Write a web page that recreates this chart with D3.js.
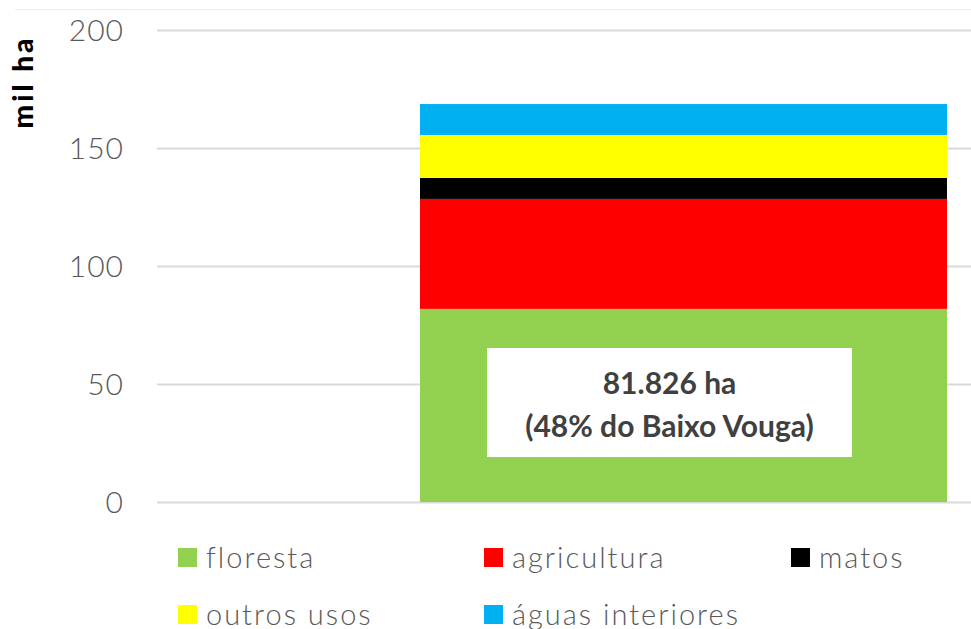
<!DOCTYPE html>
<html><head><meta charset="utf-8">
<script src="https://cdn.jsdelivr.net/npm/d3@7"></script>
<style>body{margin:0;background:#fff;}svg{display:block;}</style>
</head><body>
<svg id="c" width="971" height="629"></svg>
<script>
const categories = ["Baixo Vouga"];
const seriesNames = ["floresta", "agricultura", "matos", "outros usos", "águas interiores"];
const seriesValues = [81.826, 46.6, 8.9, 18.2, 13.1];
const seriesColors = ["#92d050", "#ff0000", "#000000", "#ffff00", "#00b0f0"];
const yTicks = [0, 50, 100, 150, 200];
const yLabel = "mil ha";
const annotationLines = ["81.826 ha", "(48% do Baixo Vouga)"];

const svg = d3.select("#c");
const font = "Lato, 'Open Sans', sans-serif";
const y = d3.scaleLinear().domain([0, 200]).range([502, 30]);
const x = d3.scaleBand().domain(categories).range([420, 947]).padding(0);

// top border
svg.append("line").attr("x1", 15).attr("x2", 971).attr("y1", 9.5).attr("y2", 9.5)
  .attr("stroke", "#ececec").attr("stroke-width", 1);

// gridlines
const yAxis = d3.axisLeft(y).tickValues(yTicks).tickSize(-(971 - 157)).tickPadding(33);
const ga = svg.append("g").attr("transform", "translate(157,0)").call(yAxis);
ga.select(".domain").remove();
ga.selectAll(".tick line").attr("stroke", "#d9d9d9").attr("stroke-width", 2);
ga.selectAll(".tick text").attr("fill", "#595959").attr("font-family", font)
  .attr("font-size", 30).attr("font-weight", 300).attr("letter-spacing", 1).attr("dy", "0.36em");

// stacked bar
const stackData = [Object.fromEntries(seriesNames.map((n, i) => [n, seriesValues[i]]))];
stackData[0].cat = categories[0];
const stacked = d3.stack().keys(seriesNames)(stackData);
svg.append("g").selectAll("rect").data(stacked).join("rect")
  .attr("x", d => x(d[0].data.cat))
  .attr("width", x.bandwidth())
  .attr("y", d => y(d[0][1]))
  .attr("height", d => y(d[0][0]) - y(d[0][1]))
  .attr("fill", (d, i) => seriesColors[i]);

// annotation box
svg.append("rect").attr("x", 487).attr("y", 348).attr("width", 365).attr("height", 109).attr("fill", "#fff");
const at = svg.append("text").attr("font-family", font).attr("font-weight", 700)
  .attr("font-size", 30).attr("fill", "#404040").attr("text-anchor", "middle");
at.append("tspan").attr("x", 669.5).attr("y", 394).text(annotationLines[0]);
at.append("tspan").attr("x", 669.5).attr("y", 437).text(annotationLines[1]);

// y label
svg.append("text").attr("transform", "translate(33,82) rotate(-90)")
  .attr("text-anchor", "middle").attr("font-family", font).attr("font-weight", 900)
  .attr("font-size", 28).attr("letter-spacing", 3).attr("fill", "#000").text(yLabel);

// legend
const legPos = [[178, 558], [484, 558], [791, 558], [178, 615], [484, 615]];
const lg = svg.append("g").selectAll("g").data(seriesNames).join("g")
  .attr("transform", (d, i) => `translate(${legPos[i][0]},${legPos[i][1]})`);
lg.append("rect").attr("x", 0).attr("y", -10).attr("width", 19).attr("height", 19)
  .attr("fill", (d, i) => seriesColors[i]);
lg.append("text").attr("x", 28).attr("y", 0).attr("dy", "0.35em")
  .attr("font-family", font).attr("font-size", 29).attr("font-weight", 300)
  .attr("letter-spacing", 2).attr("fill", "#595959").text(d => d);
</script>
</body></html>
